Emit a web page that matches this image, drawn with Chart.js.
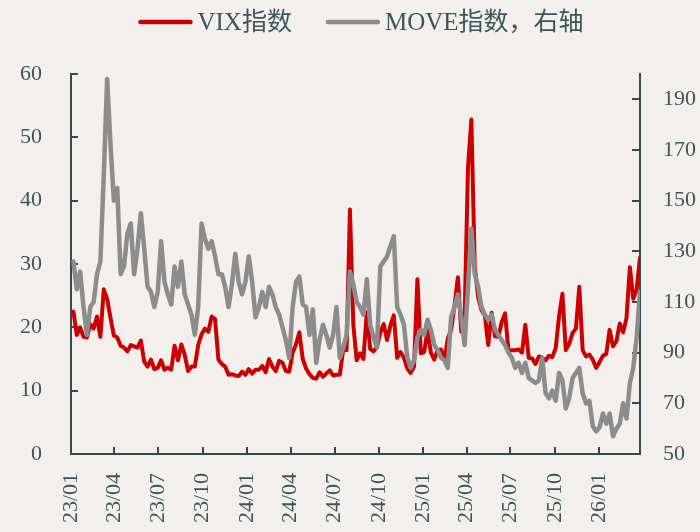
<!DOCTYPE html>
<html>
<head>
<meta charset="utf-8">
<script src="https://cdn.jsdelivr.net/npm/chart.js@4.4.1/dist/chart.umd.min.js"></script>
<style>
  html, body { margin: 0; padding: 0; background: #f2efec; }
  #wrap { width: 700px; height: 532px; }
</style>
</head>
<body>
<div id="wrap"><canvas id="c" width="700" height="532"></canvas></div>
<script>
// ---- data (weekly readings, Fridays starting 2023-01-06) ----
const startDate = '2023-01-06';
const seriesNames = ['VIX指数', 'MOVE指数，右轴'];

const vix2023 = [22.5, 18.8, 20.0, 18.5, 18.4, 20.5, 19.8, 21.7, 18.5, 26.0, 24.5, 21.5, 18.7, 18.4, 17.1, 16.8, 16.2, 17.2, 17.0, 16.8, 17.9, 14.6, 13.8, 14.9, 13.4, 13.6, 14.8, 13.3, 13.6, 13.3, 17.1, 14.8, 17.3, 15.7, 13.1, 13.8, 13.8, 17.2, 18.9, 19.8, 19.3, 21.7, 21.3, 14.9, 14.2, 13.8, 12.5, 12.6, 12.4, 12.3, 13.0, 12.5];
const vix2024 = [13.4, 12.7, 13.3, 13.3, 13.9, 12.9, 15.0, 13.8, 13.1, 14.7, 14.4, 13.1, 13.0, 16.0, 17.3, 19.2, 15.0, 13.5, 12.6, 12.0, 11.9, 12.9, 12.2, 12.7, 13.2, 12.4, 12.5, 12.5, 16.5, 16.4, 38.6, 20.4, 14.8, 15.9, 15.0, 22.4, 16.6, 16.2, 16.9, 19.2, 20.5, 18.0, 20.3, 21.9, 15.2, 16.1, 15.2, 13.5, 12.8, 13.8, 27.6, 15.9];
const vix2025 = [16.1, 19.5, 16.0, 14.9, 16.4, 16.5, 14.8, 18.2, 19.6, 23.4, 27.9, 19.3, 21.7, 45.3, 52.8, 29.7, 24.8, 22.7, 21.9, 17.2, 22.3, 18.6, 18.5, 20.8, 22.2, 16.3, 16.4, 16.4, 16.5, 16.0, 20.4, 15.2, 15.1, 14.2, 15.4, 15.2, 14.8, 15.5, 15.3, 16.7, 21.7, 25.3, 16.4, 17.4, 19.1, 19.8, 26.4, 16.4, 15.4, 15.7, 14.9, 13.6];
const vix2026 = [14.5, 15.5, 15.8, 19.6, 17.0, 17.8, 20.6, 19.2, 21.5, 29.5, 24.5, 26.0, 31.0];

const move2023 = [126, 115, 122, 108, 97, 108, 110, 121, 126, 160, 198, 172, 150, 155, 121, 124, 137, 141, 121, 131, 145, 131, 116, 114, 108, 114, 134, 118, 113, 109, 124, 116, 126, 113, 109, 105, 97, 108, 141, 135, 131, 134, 128, 121, 121, 116, 108, 117, 129, 118, 113, 118];
const move2024 = [128, 118, 104, 108, 114, 108, 116, 113, 108, 105, 100, 95, 88, 108, 118, 120, 109, 108, 97, 107, 86, 95, 101, 97, 92, 97, 108, 88, 92, 97, 122, 117, 110, 108, 105, 119, 101, 96, 92, 124, 126, 128, 132, 136, 108, 105, 101, 88, 84, 87, 96, 99];
const move2025 = [97, 103, 99, 93, 91, 88, 87, 84, 104, 108, 113, 104, 93, 116, 139, 121, 116, 108, 105, 103, 105, 99, 97, 95, 93, 90, 88, 84, 86, 82, 86, 80, 79, 78, 79, 88, 74, 72, 75, 71, 82, 79, 68, 72, 80, 82, 84, 74, 70, 71, 61, 59];
const move2026 = [60.5, 66, 62, 66, 57, 60, 62, 70, 64, 78, 84, 96, 114];

const xTickLabels = ['23/01', '23/04', '23/07', '23/10', '24/01', '24/04', '24/07', '24/10', '25/01', '25/04', '25/07', '25/10', '26/01'];
const vixTicks = [0, 10, 20, 30, 40, 50, 60];
const moveTicks = [50, 70, 90, 110, 130, 150, 170, 190];

// ---- helpers ----
const DAY = 86400000;
const origin = Date.UTC(2023, 0, 1);
function dayOf(y, m, d) { return (Date.UTC(y, m - 1, d) - origin) / DAY; }
const sd = startDate.split('-').map(Number);
const firstDay = dayOf(sd[0], sd[1], sd[2]);

const vixValues = [].concat(vix2023, vix2024, vix2025, vix2026);
const moveValues = [].concat(move2023, move2024, move2025, move2026);
const weekDays = vixValues.map((_, i) => firstDay + 7 * i);
const lastDay = weekDays[weekDays.length - 1];

const tickDays = xTickLabels.map(s => {
  const [yy, mm] = s.split('/').map(Number);
  return dayOf(2000 + yy, mm, 1);
});

const vixPts = vixValues.map((v, i) => ({ x: weekDays[i], y: v }));
const movePts = moveValues.map((v, i) => ({ x: weekDays[i], y: v }));

// ---- styles ----
const axisColor = '#2f4d4d';
const textColor = '#3a5757';
const bgColor = '#f2efec';
const fontFam = "'Liberation Serif', 'Noto Sans CJK SC', serif";

const bgPlugin = {
  id: 'bg',
  beforeDraw(chart) {
    const c = chart.ctx;
    c.save();
    c.fillStyle = bgColor;
    c.fillRect(0, 0, chart.width, chart.height);
    c.restore();
  }
};

const inwardTicks = {
  id: 'inwardTicks',
  beforeDatasetsDraw(chart) {
    const { ctx, chartArea: a, scales } = chart;
    ctx.save();
    ctx.strokeStyle = axisColor;
    ctx.lineWidth = 2;
    ctx.beginPath();
    scales.x.ticks.forEach(t => {
      const px = Math.round(scales.x.getPixelForValue(t.value));
      ctx.moveTo(px, a.bottom);
      ctx.lineTo(px, a.bottom - 7);
    });
    scales.y.ticks.forEach(t => {
      const py = Math.round(scales.y.getPixelForValue(t.value));
      ctx.moveTo(a.left, py);
      ctx.lineTo(a.left + 7, py);
    });
    scales.y1.ticks.forEach(t => {
      const py = Math.round(scales.y1.getPixelForValue(t.value));
      ctx.moveTo(a.right, py);
      ctx.lineTo(a.right - 8, py);
    });
    ctx.stroke();
    ctx.restore();
  }
};

const legendPlugin = {
  id: 'customLegend',
  afterDraw(chart) {
    const ctx = chart.ctx;
    ctx.save();
    ctx.font = '25px ' + fontFam;
    ctx.textBaseline = 'middle';
    ctx.textAlign = 'left';
    const items = chart.data.datasets.map(ds => ({ text: ds.label, color: ds.borderColor }));
    const lineW = 54, gap = 5, itemGap = 34, cy = 22;
    let total = 0;
    items.forEach((it, i) => { total += lineW + gap + ctx.measureText(it.text).width + (i ? itemGap : 0); });
    let x = 361 - total / 2;
    items.forEach(it => {
      ctx.strokeStyle = it.color;
      ctx.lineWidth = 4.5;
      ctx.lineCap = 'round';
      ctx.beginPath();
      ctx.moveTo(x + 2, cy);
      ctx.lineTo(x + lineW - 2, cy);
      ctx.stroke();
      ctx.fillStyle = textColor;
      ctx.fillText(it.text, x + lineW + gap, cy + 1);
      x += lineW + gap + ctx.measureText(it.text).width + itemGap;
    });
    ctx.restore();
  }
};

Chart.defaults.font.family = fontFam;
Chart.defaults.color = textColor;

new Chart(document.getElementById('c'), {
  type: 'line',
  data: {
    datasets: [
      {
        label: seriesNames[0], data: vixPts, yAxisID: 'y',
        borderColor: '#cc0000', borderWidth: 4, pointRadius: 0,
        borderJoinStyle: 'round', borderCapStyle: 'round', tension: 0, order: 1
      },
      {
        label: seriesNames[1], data: movePts, yAxisID: 'y1',
        borderColor: '#8c8c8c', borderWidth: 4.5, pointRadius: 0,
        borderJoinStyle: 'round', borderCapStyle: 'round', tension: 0, order: 0
      }
    ]
  },
  options: {
    responsive: false,
    animation: false,
    layout: { padding: { top: 74, left: 0, right: 0, bottom: 0 } },
    plugins: { legend: { display: false }, tooltip: { enabled: false } },
    scales: {
      x: {
        type: 'linear', min: 0, max: lastDay,
        afterBuildTicks: s => { s.ticks = tickDays.map(v => ({ value: v })); },
        afterFit: s => { s.height = 78; },
        grid: { display: false, drawTicks: false },
        border: { display: true, color: axisColor, width: 2 },
        ticks: {
          autoSkip: false, minRotation: 90, maxRotation: 90, padding: 19,
          font: { size: 22 }, color: textColor,
          callback: (v) => { const k = tickDays.indexOf(v); return k >= 0 ? xTickLabels[k] : ''; }
        }
      },
      y: {
        position: 'left', min: 0, max: 60,
        afterBuildTicks: s => { s.ticks = vixTicks.map(v => ({ value: v })); },
        afterFit: s => { s.width = 71; },
        grid: { display: false, drawTicks: false },
        border: { display: true, color: axisColor, width: 2 },
        ticks: { padding: 29, font: { size: 22 }, color: textColor }
      },
      y1: {
        position: 'right', min: 50, max: 200,
        afterBuildTicks: s => { s.ticks = moveTicks.map(v => ({ value: v })); },
        afterFit: s => { s.width = 60; },
        grid: { display: false, drawTicks: false },
        border: { display: true, color: axisColor, width: 2 },
        ticks: { padding: 23, font: { size: 22 }, color: textColor }
      }
    }
  },
  plugins: [bgPlugin, inwardTicks, legendPlugin]
});
</script>
</body>
</html>
